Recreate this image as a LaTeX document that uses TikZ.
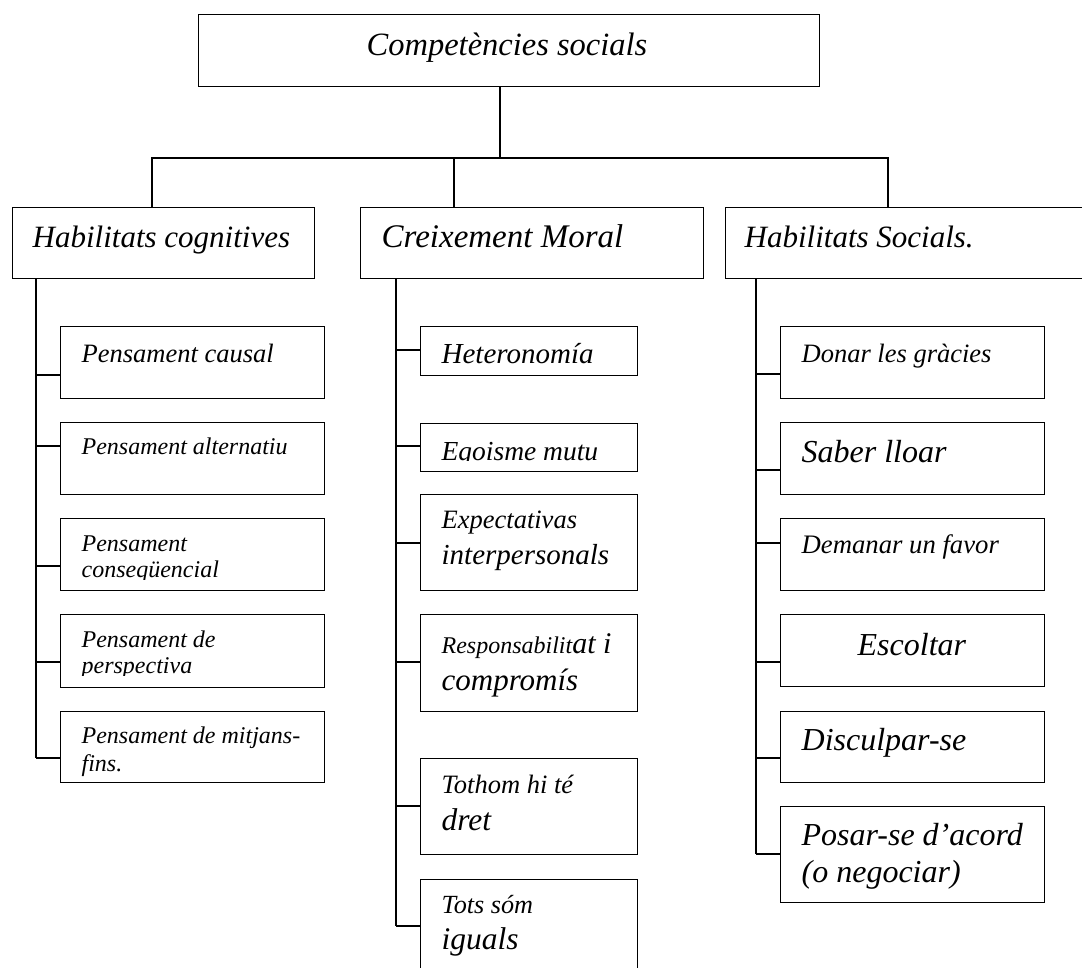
\documentclass[tikz,border=0pt]{standalone}
\usepackage{fontspec}
\setmainfont{Liberation Serif}
\begin{document}
\begin{tikzpicture}[x=1pt,y=-1pt,line width=1.3pt,
  box/.style={draw=black,rectangle,inner sep=0pt,anchor=north west,line width=1.3pt},
  conn/.style={draw=black,line width=1.3pt},
  lbl/.style={anchor=base west,inner sep=0pt},
  tsz/.style={font=\fontsize{#1}{#1}\selectfont\itshape}]
\clip (0,0) rectangle (1082,967);
\fill[white] (0,0) rectangle (1082,967);

% ---------- top level
\node[box,minimum width=621pt,minimum height=72pt] (top) at (198,14) {};
\node[lbl,tsz=32.5] (ttop) at (366,55) {Competències socials};

% ---------- second level
\node[box,minimum width=302pt,minimum height=71pt] (hc) at (12,207) {};
\node[box,minimum width=343pt,minimum height=71pt] (cm) at (360,207) {};
\node[box,minimum width=375pt,minimum height=71pt] (hs) at (725,207) {};
\node[lbl,tsz=31] (thc) at (32,247) {Habilitats cognitives};
\node[lbl,tsz=33] (tcm) at (381,247) {Creixement Moral};
\node[lbl,tsz=31] (ths) at (744,247) {Habilitats Socials.};

\coordinate (j0) at (500,158);
\coordinate (d1) at (152,158);
\coordinate (d2) at (454,158);
\coordinate (d3) at (888,158);
\draw[conn] (top.south -| j0) -- (j0);
\draw[conn] (hc.north -| d1) -- (d1) -- (d3) -- (hs.north -| d3);
\draw[conn] (d2) -- (cm.north -| d2);

% ---------- Habilitats cognitives children
\node[box,minimum width=264pt,minimum height=72pt] (c1) at (60,326) {};
\node[box,minimum width=264pt,minimum height=72pt] (c2) at (60,422) {};
\node[box,minimum width=264pt,minimum height=72pt] (c3) at (60,518) {};
\node[box,minimum width=264pt,minimum height=73pt] (c4) at (60,614) {};
\node[box,minimum width=264pt,minimum height=71pt] (c5) at (60,711) {};

\node[lbl,tsz=26.5] (tc1) at (81,362) {Pensament causal};
\node[lbl,tsz=24] (tc2) at (81,454) {Pensament alternatiu};
\begin{scope}
  \clip (60,518) rectangle (324,579);
  \node[lbl,tsz=24] (tc3a) at (81,551) {Pensament};
  \node[lbl,tsz=24] (tc3b) at (81,577) {conseqüencial};
\end{scope}
\begin{scope}
  \clip (60,614) rectangle (324,675);
  \node[lbl,tsz=24] (tc4a) at (81,647) {Pensament de};
  \node[lbl,tsz=24] (tc4b) at (81,673) {perspectiva};
\end{scope}
\node[lbl,tsz=24] (tc5a) at (81,743) {Pensament de mitjans-};
\node[lbl,tsz=24] (tc5b) at (81,771) {fins.};

\coordinate (k1) at (36,375);
\coordinate (k2) at (36,446);
\coordinate (k3) at (36,566);
\coordinate (k4) at (36,662);
\coordinate (k5) at (36,758);
\draw[conn] (hc.south -| k1) -- (k5);
\draw[conn] (k1) -- (k1 -| c1.west);
\draw[conn] (k2) -- (k2 -| c2.west);
\draw[conn] (k3) -- (k3 -| c3.west);
\draw[conn] (k4) -- (k4 -| c4.west);
\draw[conn] (k5) -- (k5 -| c5.west);

% ---------- Creixement Moral children
\node[box,minimum width=217pt,minimum height=49pt] (m1) at (420,326) {};
\node[box,minimum width=217pt,minimum height=48pt] (m2) at (420,423) {};
\node[box,minimum width=217pt,minimum height=96pt] (m3) at (420,494) {};
\node[box,minimum width=217pt,minimum height=97pt] (m4) at (420,614) {};
\node[box,minimum width=217pt,minimum height=96pt] (m5) at (420,758) {};
\node[box,minimum width=217pt,minimum height=130pt] (m6) at (420,879) {};

\node[lbl,tsz=29] (tm1) at (441,363) {Heteronomía};
\begin{scope}
  \clip (420,423) rectangle (637,460.5);
  \node[lbl,tsz=27.5] (tm2) at (441,460) {Egoisme mutu};
\end{scope}
\node[lbl,tsz=26.5] (tm3a) at (441,528) {Expectativas};
\node[lbl,tsz=29] (tm3b) at (441,564) {interpersonals};
\node[lbl,tsz=24] (tm4a) at (441,653) {Responsabilit{\fontsize{30}{30}\selectfont at i}};
\node[lbl,tsz=31] (tm4b) at (441,690) {compromís};
\node[lbl,tsz=26.5] (tm5a) at (441,793) {Tothom hi té};
\node[lbl,tsz=31.5] (tm5b) at (441,830) {dret};
\node[lbl,tsz=26.2] (tm6a) at (441,913) {Tots sóm};
\node[lbl,tsz=31.5] (tm6b) at (441,949) {iguals};

\coordinate (n1) at (396,350);
\coordinate (n2) at (396,446);
\coordinate (n3) at (396,543);
\coordinate (n4) at (396,662);
\coordinate (n5) at (396,806);
\coordinate (n6) at (396,926);
\draw[conn] (cm.south -| n1) -- (n6);
\draw[conn] (n1) -- (n1 -| m1.west);
\draw[conn] (n2) -- (n2 -| m2.west);
\draw[conn] (n3) -- (n3 -| m3.west);
\draw[conn] (n4) -- (n4 -| m4.west);
\draw[conn] (n5) -- (n5 -| m5.west);
\draw[conn] (n6) -- (n6 -| m6.west);

% ---------- Habilitats Socials children
\node[box,minimum width=264pt,minimum height=72pt] (s1) at (780,326) {};
\node[box,minimum width=264pt,minimum height=72pt] (s2) at (780,422) {};
\node[box,minimum width=264pt,minimum height=72pt] (s3) at (780,518) {};
\node[box,minimum width=264pt,minimum height=72pt] (s4) at (780,614) {};
\node[box,minimum width=264pt,minimum height=71pt] (s5) at (780,711) {};
\node[box,minimum width=264pt,minimum height=96pt] (s6) at (780,806) {};

\node[lbl,tsz=26.5] (ts1) at (801,362) {Donar les gràcies};
\node[lbl,tsz=32] (ts2) at (801,462) {Saber lloar};
\node[lbl,tsz=26.7] (ts3) at (801,553) {Demanar un favor};
\node[lbl,tsz=32] (ts4) at (857,655) {Escoltar};
\node[lbl,tsz=32] (ts5) at (801,750) {Disculpar-se};
\node[lbl,tsz=32] (ts6a) at (801,845) {Posar-se d’acord};
\node[lbl,tsz=32] (ts6b) at (801,882) {(o negociar)};

\coordinate (p1) at (756,374);
\coordinate (p2) at (756,470);
\coordinate (p3) at (756,543);
\coordinate (p4) at (756,662);
\coordinate (p5) at (756,758);
\coordinate (p6) at (756,854);
\draw[conn] (hs.south -| p1) -- (p6);
\draw[conn] (p1) -- (p1 -| s1.west);
\draw[conn] (p2) -- (p2 -| s2.west);
\draw[conn] (p3) -- (p3 -| s3.west);
\draw[conn] (p4) -- (p4 -| s4.west);
\draw[conn] (p5) -- (p5 -| s5.west);
\draw[conn] (p6) -- (p6 -| s6.west);
\end{tikzpicture}
\end{document}
